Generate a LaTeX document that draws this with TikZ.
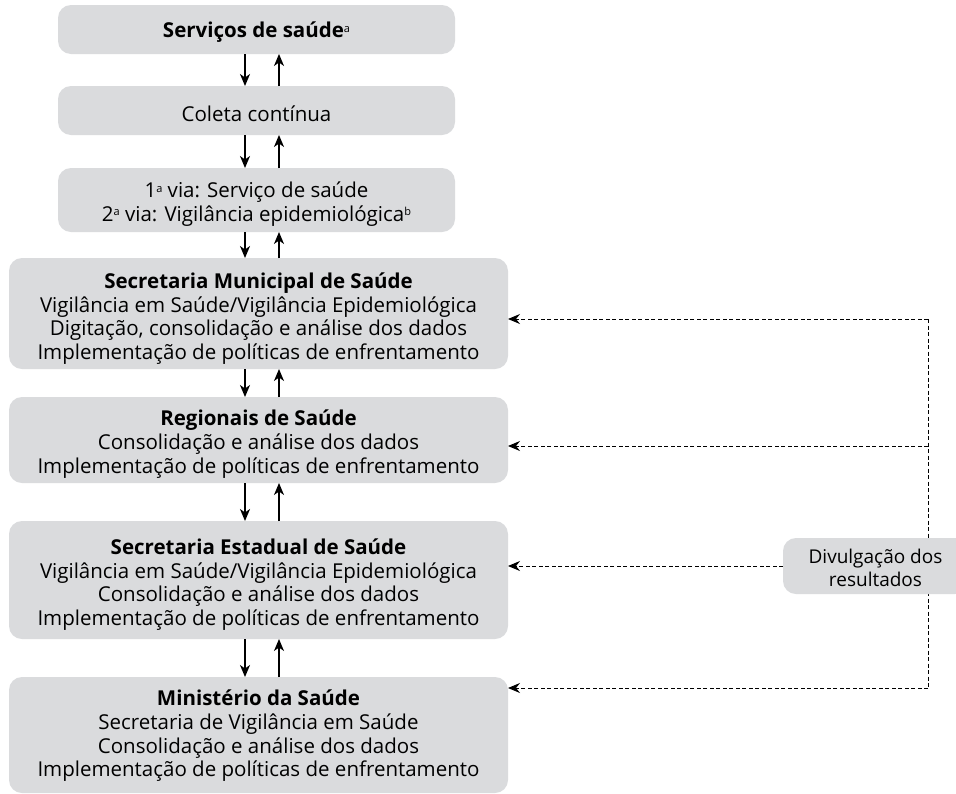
\documentclass[tikz,border=0pt]{standalone}
\usepackage{fontspec}
\setmainfont{Open Sans}
\usetikzlibrary{arrows.meta}
\definecolor{boxgray}{RGB}{218,219,221}
\newcommand{\supa}[1]{{\fontsize{11}{11}\selectfont\raisebox{0.9ex}{#1}}}
\begin{document}
\begin{tikzpicture}[x=1pt,y=-1pt,
  every node/.style={inner sep=0pt,outer sep=0pt},
  gbox/.style={fill=boxgray,rounded corners=13pt},
  txt/.style={align=center,font=\fontsize{20.5}{23.7}\selectfont},
  arr/.style={line width=1.3pt,-{Stealth[length=12pt,width=10pt,inset=3.5pt]}},
  darr/.style={line width=1pt,dash pattern=on 4pt off 2.5pt,-{Stealth[length=12pt,width=10pt,inset=4pt]}},
  dline/.style={line width=1pt,dash pattern=on 4pt off 2.5pt}]
\clip (0,0) rectangle (956,793);
\fill[white] (0,0) rectangle (956,793);
\node[gbox,minimum width=397pt,minimum height=49pt] (b1) at (256.5,29.5) {};
\node[gbox,minimum width=397pt,minimum height=49pt] (b2) at (256.5,110.5) {};
\node[gbox,minimum width=397pt,minimum height=64pt] (b3) at (256.5,200) {};
\node[gbox,minimum width=499pt,minimum height=111pt] (b4) at (258.5,313.5) {};
\node[gbox,minimum width=499pt,minimum height=86pt] (b5) at (258.5,440) {};
\node[gbox,minimum width=499pt,minimum height=118pt] (b6) at (258.5,580) {};
\node[gbox,minimum width=499pt,minimum height=116pt] (b7) at (258.5,735) {};
\node[txt] (t1) at ([yshift=-3pt]b1.center) {\textbf{Serviços de saúde}\supa{a}};
\node[txt] (t2) at ([yshift=-3pt]b2.center) {Coleta contínua};
\node[txt] (t3) at ([yshift=-4pt]b3.center) {1\supa{a} via: Serviço de saúde\\2\supa{a} via: Vigilância epidemiológica\supa{b}};
\node[txt] (t4) at ([yshift=-5pt]b4.center) {\textbf{Secretaria Municipal de Saúde}\\Vigilância em Saúde/Vigilância Epidemiológica\\Digitação, consolidação e análise dos dados\\Implementação de políticas de enfrentamento};
\node[txt] (t5) at ([yshift=-4pt]b5.center) {\textbf{Regionais de Saúde}\\Consolidação e análise dos dados\\Implementação de políticas de enfrentamento};
\node[txt] (t6) at ([yshift=-4.5pt]b6.center) {\textbf{Secretaria Estadual de Saúde}\\Vigilância em Saúde/Vigilância Epidemiológica\\Consolidação e análise dos dados\\Implementação de políticas de enfrentamento};
\node[txt] (t7) at ([yshift=-1pt]b7.center) {\textbf{Ministério da Saúde}\\Secretaria de Vigilância em Saúde\\Consolidação e análise dos dados\\Implementação de políticas de enfrentamento};
\coordinate (dx) at (245,0);
\coordinate (ux) at (279,0);
\foreach \a/\b in {b1/b2,b2/b3,b3/b4,b4/b5,b5/b6,b6/b7}{
  \draw[arr] (\a.south -| dx) -- (\b.north -| dx);
  \draw[arr] (\b.north -| ux) -- (\a.south -| ux);
}
\coordinate (vtop) at (928,319);
\coordinate (vmid) at (928,446);
\coordinate (vbot) at (928,688);
\draw[dline] (vtop) -- (vbot);
\draw[darr] (vtop) -- (vtop -| b4.east);
\draw[darr] (vmid) -- (vmid -| b5.east);
\draw[darr] (vbot) -- (vbot -| b7.east);
\node[gbox,minimum width=185pt,minimum height=56pt] (div) at (875.5,566) {};
\node[txt,font=\fontsize{19}{23.7}\selectfont] (tdiv) at ([yshift=-2pt]div.center) {Divulgação dos\\resultados};
\draw[darr] (div.west) -- (div.west -| b6.east);
\end{tikzpicture}
\end{document}
